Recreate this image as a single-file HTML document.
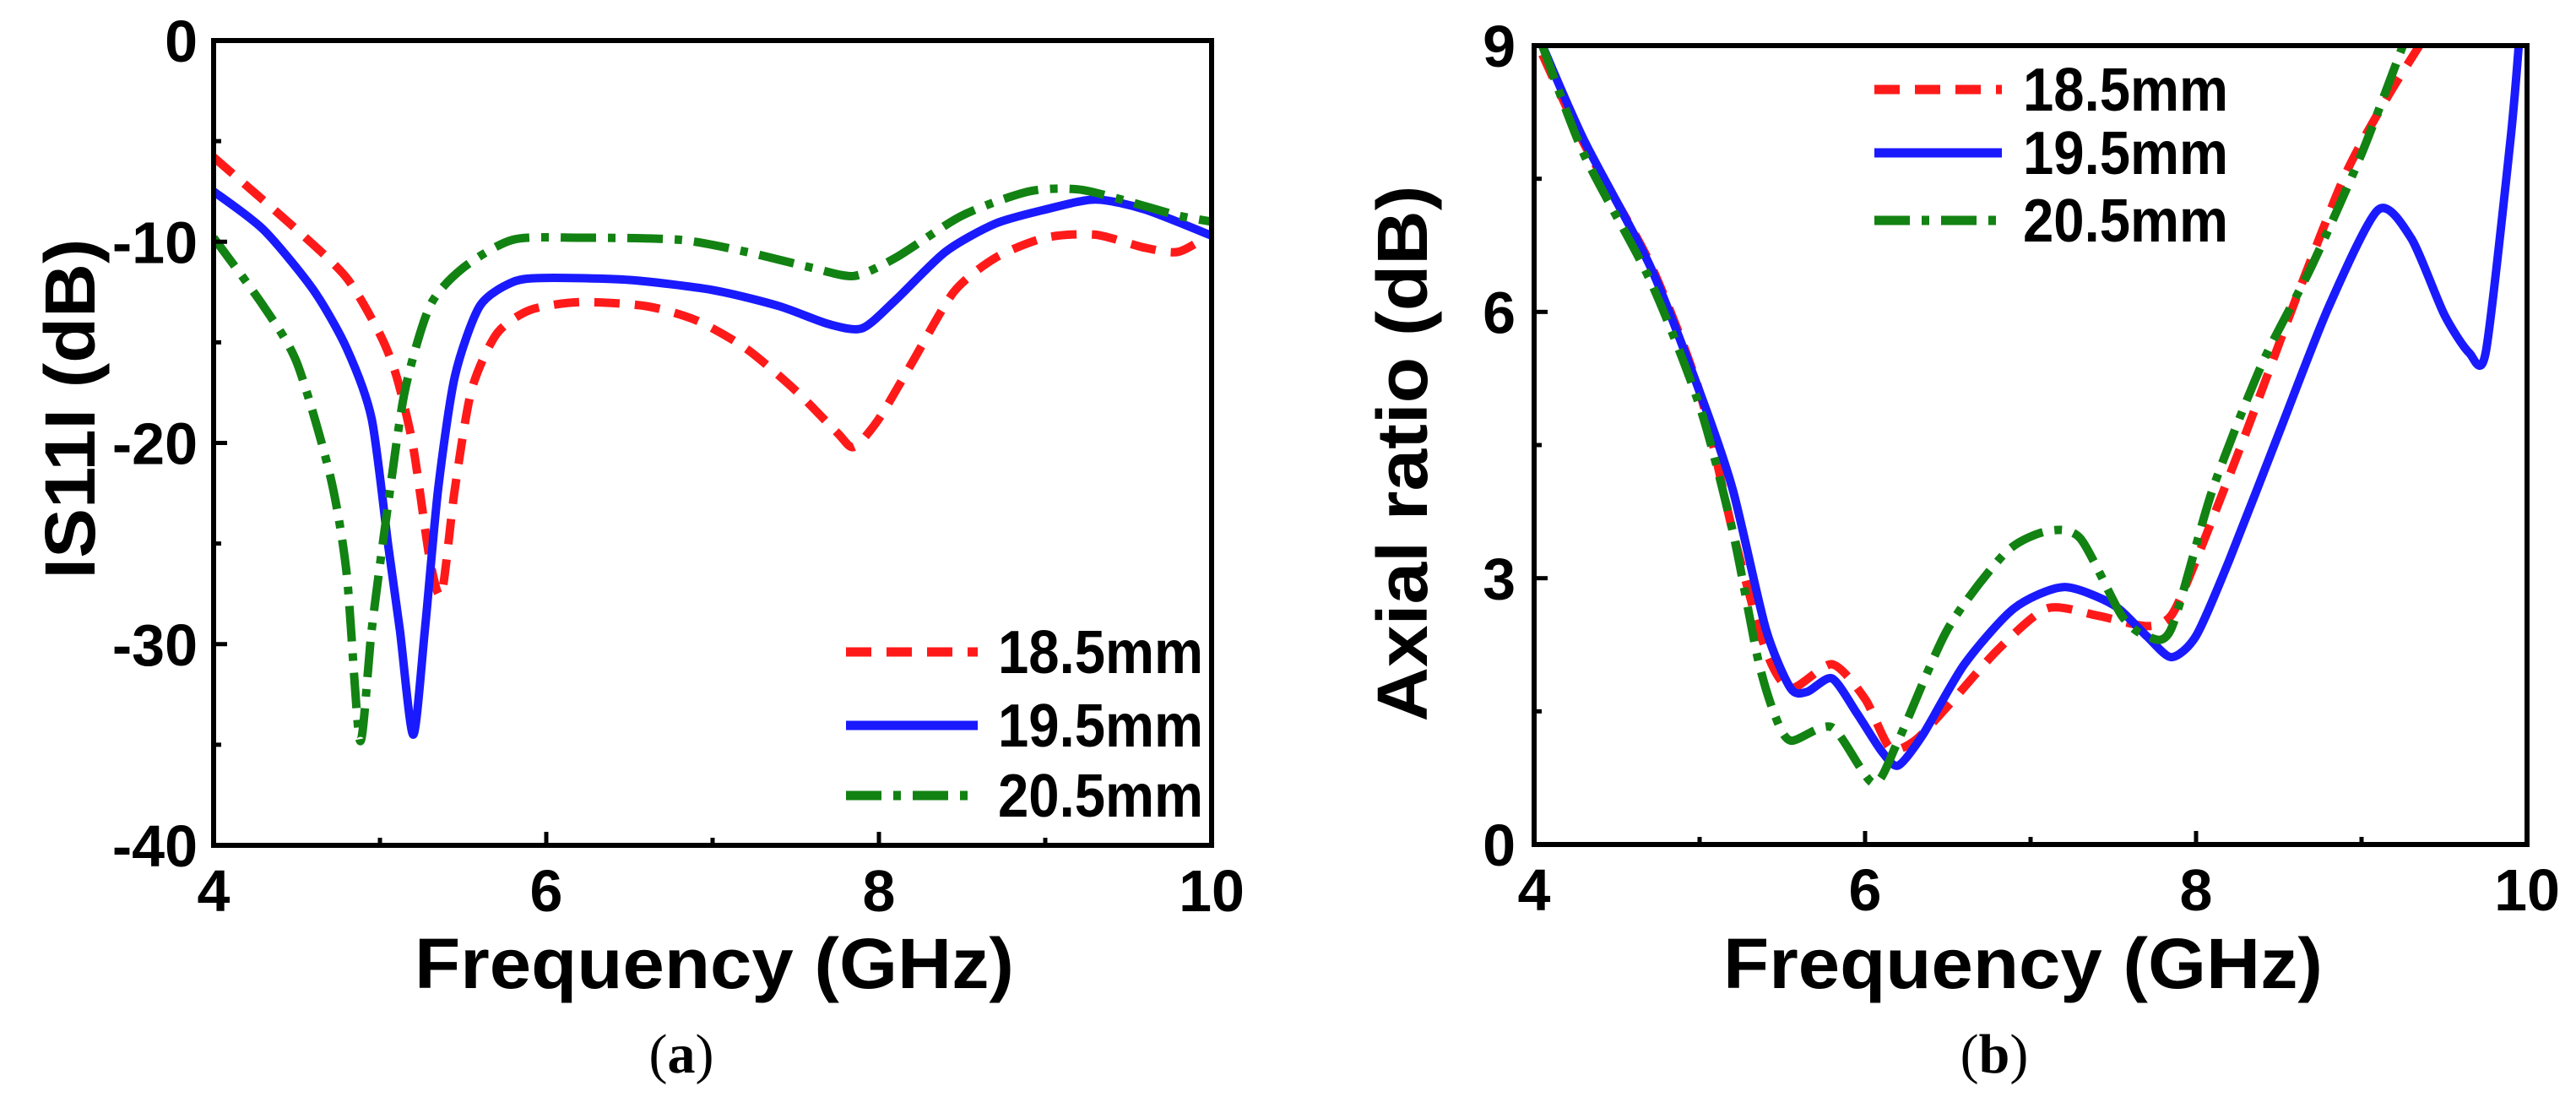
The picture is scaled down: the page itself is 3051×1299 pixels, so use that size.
<!DOCTYPE html>
<html><head><meta charset="utf-8"><style>
html,body{margin:0;padding:0;background:#fff;}
svg{display:block;}
text{font-family:"Liberation Sans",Arial,sans-serif;font-weight:bold;fill:#000;}
.cap{font-family:"Liberation Serif",serif;font-weight:normal;}
</style></head><body>
<svg id="fig" width="3051" height="1299" viewBox="0 0 3051 1299" xmlns="http://www.w3.org/2000/svg">
<defs>
<clipPath id="clipA"><rect x="253" y="48" width="1182" height="953"/></clipPath>
<clipPath id="clipB"><rect x="1817" y="54" width="1176" height="946"/></clipPath>
</defs>
<g id="panelA"></g>
<g id="panelB"></g>
<text class="cap" x="807" y="1270" font-size="66" text-anchor="middle">(<tspan font-weight="bold">a</tspan>)</text>
<text class="cap" x="2362" y="1270" font-size="66" text-anchor="middle">(<tspan font-weight="bold">b</tspan>)</text>
</svg>
<script>
// ---- Chart A data: |S11| (dB) vs frequency (GHz)
const s11Labels = ["18.5mm","19.5mm","20.5mm"];
const s11RedF = [4,4.5,4.8,5.0,5.1,5.2,5.3,5.37,5.45,5.55,5.7,5.9,6.2,6.6,6.9,7.2,7.5,7.75,7.85,8.0,8.2,8.45,8.7,9.0,9.3,9.6,9.8,10];
const s11RedV = [-5.8,-9.4,-11.8,-14.6,-16.7,-20.2,-25.8,-27.5,-22.3,-17.4,-14.6,-13.4,-13,-13.2,-13.9,-15.3,-17.4,-19.5,-20.2,-18.8,-16,-12.5,-10.8,-9.8,-9.65,-10.3,-10.5,-9.6];
const s11BlueF = [4,4.3,4.6,4.8,4.95,5.05,5.12,5.2,5.27,5.35,5.45,5.6,5.8,6.0,6.5,7.0,7.4,7.7,7.9,8.1,8.4,8.7,9.0,9.3,9.6,10];
const s11BlueV = [-7.5,-9.4,-12.4,-15.3,-18.8,-25.1,-29.3,-34.5,-29.3,-22.3,-16.7,-13.2,-12,-11.8,-11.9,-12.4,-13.2,-14.1,-14.3,-12.9,-10.5,-9.1,-8.4,-7.9,-8.4,-9.7];
const s11GreenF = [4,4.3,4.5,4.7,4.8,4.88,4.95,5.05,5.15,5.3,5.5,5.8,6.2,6.8,7.2,7.6,7.85,8.1,8.5,8.9,9.2,9.5,9.8,10];
const s11GreenV = [-9.8,-13.2,-16,-21.6,-26.5,-34.8,-29.3,-23,-17.4,-13.2,-11.3,-9.9,-9.8,-9.9,-10.5,-11.3,-11.7,-10.8,-8.7,-7.5,-7.4,-8,-8.7,-9];
const s11XTicks = [4,6,8,10];
const s11YTicks = [0,-10,-20,-30,-40];

// ---- Chart B data: axial ratio (dB) vs frequency (GHz)
const arRedF = [4.05,4.3,4.7,5.0,5.2,5.4,5.55,5.8,6.0,6.15,6.3,6.5,6.8,7.1,7.4,7.7,7.85,8.0,8.3,8.6,8.9,9.15,9.35];
const arRedV = [8.9,7.9,6.55,5.1,3.53,2.19,1.76,2.03,1.64,1.09,1.17,1.56,2.19,2.66,2.58,2.46,2.58,3.2,4.63,6.13,7.54,8.4,9];
const arBlueF = [4.05,4.3,4.7,5.0,5.2,5.4,5.55,5.65,5.8,5.95,6.1,6.2,6.35,6.6,6.9,7.2,7.5,7.7,7.85,8.0,8.2,8.5,8.8,9.1,9.3,9.5,9.65,9.75,9.9,9.95];
const arBlueV = [9,7.94,6.52,5.1,4.0,2.43,1.76,1.72,1.87,1.48,1.05,0.89,1.24,2.03,2.66,2.9,2.7,2.35,2.11,2.35,3.2,4.63,6.05,7.15,6.83,5.97,5.54,5.54,7.94,9];
const arGreenF = [4.05,4.3,4.7,5.0,5.2,5.35,5.45,5.55,5.8,6.05,6.2,6.5,6.85,7.1,7.3,7.55,7.7,7.85,8.1,8.4,8.7,9.0,9.25];
const arGreenV = [9,7.78,6.36,4.94,3.53,2.11,1.48,1.17,1.32,0.69,1.17,2.43,3.29,3.53,3.45,2.58,2.35,2.43,4.0,5.42,6.52,7.78,9];
const arXTicks = [4,6,8,10];
const arYTicks = [0,3,6,9];

const NS = "http://www.w3.org/2000/svg";
function mk(tag, attrs, parent){
  const e = document.createElementNS(NS, tag);
  for (const k in attrs) e.setAttribute(k, attrs[k]);
  parent.appendChild(e); return e;
}
const STY = [
  {stroke:"#ff1a1a", dash:"30 18"},
  {stroke:"#1a1aff", dash:""},
  {stroke:"#128212", dash:"42 14 9 14"}
];
function smoothPath(P){
  let d = "M"+P[0][0].toFixed(1)+","+P[0][1].toFixed(1);
  const k = 1/8;
  for (let i=0;i<P.length-1;i++){
    const p0=P[Math.max(0,i-1)], p1=P[i], p2=P[i+1], p3=P[Math.min(P.length-1,i+2)];
    const c1=[p1[0]+(p2[0]-p0[0])*k, p1[1]+(p2[1]-p0[1])*k];
    const c2=[p2[0]-(p3[0]-p1[0])*k, p2[1]-(p3[1]-p1[1])*k];
    d += " C"+c1[0].toFixed(1)+","+c1[1].toFixed(1)+" "+c2[0].toFixed(1)+","+c2[1].toFixed(1)+" "+p2[0].toFixed(1)+","+p2[1].toFixed(1);
  }
  return d;
}

function buildChart(g, cfg){
  const L=cfg.L, R=cfg.R, T=cfg.T, B=cfg.B;
  const xs = f => L + (f-cfg.x0)/(cfg.x1-cfg.x0)*(R-L);
  const ys = v => B - (v-cfg.y0)/(cfg.y1-cfg.y0)*(B-T);
  const sg = mk("g",{"clip-path":cfg.clip},g);
  
  
  cfg.series.forEach((s,i)=>{
    const P = s.f.map((f,j)=> [xs(f), ys(s.v[j])]);
    const p = mk("path",{d:smoothPath(P),fill:"none",stroke:STY[i].stroke,"stroke-width":10,"stroke-linejoin":"round","stroke-dasharray":STY[i].dash},sg);
    
    
  });
  const fr = mk("rect",{x:L,y:T,width:R-L,height:B-T,fill:"none",stroke:"#000","stroke-width":6},g);
  
  
  cfg.xt.forEach((t,i)=>{
    const x = xs(t);
    mk("line",{x1:x,x2:x,y1:B,y2:B-16,stroke:"#000","stroke-width":5},g);
    if (i < cfg.xt.length-1){
      const xm = xs((t+cfg.xt[i+1])/2);
      mk("line",{x1:xm,x2:xm,y1:B,y2:B-9,stroke:"#000","stroke-width":5},g);
    }
    const tx = mk("text",{x:x,y:B+78,"font-size":70,"text-anchor":"middle"},g);
    tx.textContent = t;
    
    
  });
  cfg.yt.forEach((t,i)=>{
    const y = ys(t);
    mk("line",{x1:L,x2:L+16,y1:y,y2:y,stroke:"#000","stroke-width":5},g);
    if (i < cfg.yt.length-1){
      const ym = ys((t+cfg.yt[i+1])/2);
      mk("line",{x1:L,x2:L+9,y1:ym,y2:ym,stroke:"#000","stroke-width":5},g);
    }
    const tx = mk("text",{x:cfg.ylx,y:y+25,"font-size":70,"text-anchor":"end"},g);
    tx.textContent = t;
    
    
  });
  const xt = mk("text",{x:cfg.xtx,y:1170,"font-size":84,"text-anchor":"middle",textLength:710,lengthAdjust:"spacingAndGlyphs"},g);
  xt.textContent = "Frequency (GHz)";
  
  
  const yt = mk("text",{x:0,y:0,"font-size":84,"text-anchor":"middle",textLength:cfg.ytl,lengthAdjust:"spacingAndGlyphs",transform:"translate("+cfg.ytx+","+cfg.yty+") rotate(-90)"},g);
  yt.textContent = cfg.ytitle;
  
  
  cfg.series.forEach((s,i)=>{
    const y = cfg.legY[i];
    const ln = mk("line",{x1:cfg.legX1,x2:cfg.legX2,y1:y,y2:y,stroke:STY[i].stroke,"stroke-width":11,"stroke-dasharray":STY[i].dash},g);
    
    
    const tx = mk("text",{x:cfg.legTX,y:y+25,"font-size":72,textLength:243,lengthAdjust:"spacingAndGlyphs"},g);
    tx.textContent = s.name;
    
    
  });
}

buildChart(document.getElementById("panelA"), {
  L:253,R:1435,T:48,B:1001,x0:4,x1:10,y0:-40,y1:0,clip:"url(#clipA)",
  xt:s11XTicks, yt:s11YTicks, ylx:234, xtx:846, ytitle:"IS11I (dB)", ytl:403, ytx:112, yty:484,
  legY:[772,859,942], legX1:1002, legX2:1158, legTX:1182,
  series:[{name:s11Labels[0],f:s11RedF,v:s11RedV},{name:s11Labels[1],f:s11BlueF,v:s11BlueV},{name:s11Labels[2],f:s11GreenF,v:s11GreenV}]
});
buildChart(document.getElementById("panelB"), {
  L:1817,R:2993,T:54,B:1000,x0:4,x1:10,y0:0,y1:9,clip:"url(#clipB)",
  xt:arXTicks, yt:arYTicks, ylx:1795, xtx:2396, ytitle:"Axial ratio (dB)", ytl:635, ytx:1690, yty:537,
  legY:[106,181,261], legX1:2220, legX2:2371, legTX:2396,
  series:[{name:s11Labels[0],f:arRedF,v:arRedV},{name:s11Labels[1],f:arBlueF,v:arBlueV},{name:s11Labels[2],f:arGreenF,v:arGreenV}]
});
</script>
</body></html>
